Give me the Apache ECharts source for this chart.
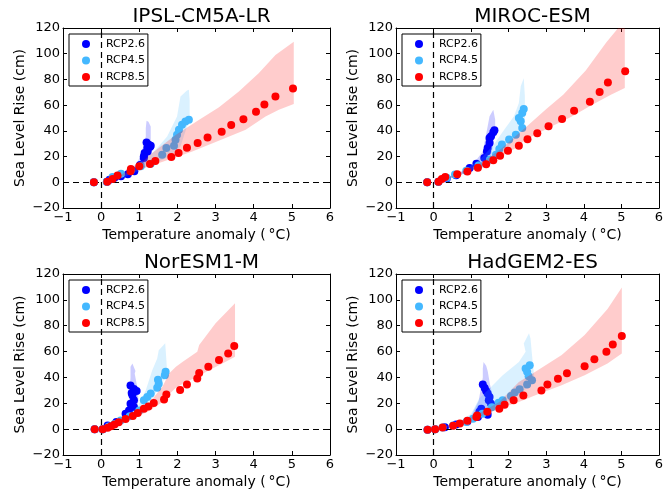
<!DOCTYPE html>
<html>
<head>
<meta charset="utf-8">
<script src="https://cdn.jsdelivr.net/npm/echarts@6/dist/echarts.min.js"></script>
<style>html,body{margin:0;padding:0;background:#fff}#c{width:669px;height:493px}</style>
</head>
<body>
<div id="c"></div>
<script>
// ---------- data ----------
const models = ['IPSL-CM5A-LR', 'MIROC-ESM', 'NorESM1-M', 'HadGEM2-ES'];
const scenarios = ['RCP2.6', 'RCP4.5', 'RCP8.5'];
const xTicks = [-1, 0, 1, 2, 3, 4, 5, 6];
const yTicks = [-20, 0, 20, 40, 60, 80, 100, 120];
const xLabel = 'Temperature anomaly (\u2009\u00B0C)';
const yLabel = 'Sea Level Rise (cm)';

// IPSL-CM5A-LR
const ipslRcp26 = [[-0.19,0],[0.15,0.5],[0.22,2],[0.35,3.5],[0.52,4.7],[0.70,6.2],[0.87,8.5],[1.02,13.5],[1.12,18.9],[1.14,22.8],[1.12,20.2],[1.21,26.6],[1.25,29.2],[1.19,31],[1.28,27.4],[1.22,24],[1.30,28.5]];
const ipslRcp45 = [[-0.19,0],[0.15,0.5],[0.30,4.1],[0.52,6.7],[0.78,9.3],[1.04,12.4],[1.30,14.5],[1.60,21.5],[1.71,26.6],[1.91,28.4],[1.95,33.1],[1.99,37],[2.04,40.9],[2.12,44.7],[2.21,47.3],[2.30,48.6]];
const ipslRcp85 = [[-0.19,0],[0.16,0.5],[0.30,2.6],[0.43,5.2],[0.77,8.5],[0.78,10.3],[1.0,12.4],[1.28,14.2],[1.42,16.5],[1.84,19.7],[2.03,22.8],[2.25,26.9],[2.53,30.5],[2.79,34.9],[3.16,39.3],[3.41,44.5],[3.73,49.1],[4.06,54.8],[4.28,60.5],[4.57,66.7],[5.03,72.9]];
const ipslBand26 = [[0.15,0.8],[0.6,6],[0.95,15],[1.08,25.3],[1.17,35.7],[1.17,42],[1.19,47.8],[1.24,47],[1.30,43.4],[1.30,33],[1.28,22],[1.15,14],[0.8,7],[0.15,0.2]];
const ipslBand45 = [[0.15,0.8],[0.65,7],[1.0,13],[1.43,25.3],[1.73,35.7],[1.99,51.2],[2.08,66.7],[2.25,71.4],[2.30,72],[2.32,64],[2.32,48.6],[2.25,43.4],[2.08,27.9],[1.78,20],[1.35,13.7],[0.65,4.7],[0.15,0.2]];
const ipslBand85 = [[0.15,0.8],[0.5,5.5],[1.0,14],[1.34,22.8],[1.96,37],[2.57,48.6],[3.09,58.4],[3.61,70.6],[4.13,84.8],[4.57,99],[5.05,109.4],[5.05,60.8],[4.66,56.4],[4.31,51.2],[3.79,40.9],[3.26,34.4],[2.39,24],[1.52,15],[1.0,10],[0.5,4],[0.15,0.2]];

// MIROC-ESM
const mirocRcp26 = [[-0.17,0],[0.13,0.5],[0.35,3],[0.6,5.5],[0.96,11.1],[1.14,14.5],[1.35,18.9],[1.42,24],[1.44,26.7],[1.49,30.6],[1.49,34.5],[1.53,35.8],[1.59,38.9],[1.62,40.4]];
const mirocRcp45 = [[-0.17,0],[0.13,0.5],[0.35,3.5],[0.57,6],[0.87,9],[1.2,13],[1.5,17.5],[1.66,21.5],[1.75,25.9],[1.82,29.3],[2.01,33.2],[2.19,37],[2.36,42.2],[2.32,47.4],[2.27,50],[2.36,53.9],[2.40,57]];
const mirocRcp85 = [[-0.17,0],[0.13,0.5],[0.22,2.6],[0.31,4.1],[0.63,6.2],[0.90,8.3],[1.18,11.4],[1.40,14],[1.59,17.1],[1.77,20.7],[1.98,24.6],[2.27,28.5],[2.50,33.5],[2.76,38.1],[3.06,43.5],[3.42,49.3],[3.74,55.7],[4.16,62.7],[4.42,70.2],[4.64,77.7],[5.10,86.3]];
const mirocBand26 = [[0.13,0.8],[0.6,6.5],[1.0,12],[1.31,24],[1.44,43.5],[1.49,51.3],[1.59,56.5],[1.64,48.7],[1.64,38.3],[1.53,20.2],[1.2,12],[0.7,5.5],[0.13,0.2]];
const mirocBand45 = [[0.13,0.8],[0.7,7],[1.22,17.6],[1.57,28],[1.88,40.9],[2.14,51.3],[2.27,61.7],[2.32,74.6],[2.40,81],[2.43,66.8],[2.43,48.7],[2.36,40.9],[1.92,25.4],[1.40,15],[0.8,6.5],[0.13,0.2]];
const mirocBand85 = [[0.13,0.8],[0.7,7.5],[1.3,16],[1.8,26],[2.5,44],[3.0,57],[3.45,68],[4.05,87],[4.6,109],[5.0,123],[5.09,125],[5.09,73.3],[4.72,68],[4.2,60],[3.67,51],[3.15,43.5],[2.45,33],[2.19,26.7],[1.66,17.6],[1.0,9],[0.5,4],[0.13,0.2]];

// NorESM1-M
const noresmRcp26 = [[-0.17,0],[0.04,0],[0.17,2.8],[0.4,5.5],[0.64,11.9],[0.73,14.5],[0.86,17.1],[0.77,19.7],[0.86,22.3],[0.82,26.2],[0.93,29.5],[0.86,31.1],[0.77,33.7],[0.80,28]];
const noresmRcp45 = [[-0.17,0],[0.04,0],[0.2,2],[0.35,4],[0.51,6.7],[0.75,10],[1.0,14.5],[1.12,22.3],[1.21,24.9],[1.30,27.5],[1.47,32.1],[1.51,35.2],[1.49,38.3],[1.67,41.7],[1.69,44.3]];
const noresmRcp85 = [[-0.17,0],[0.04,0],[0.17,1],[0.26,2.3],[0.35,3.6],[0.46,5.4],[0.64,7.8],[0.83,10.1],[0.96,12.4],[1.12,15.8],[1.24,17.6],[1.38,20.2],[1.65,23],[1.71,26.7],[2.07,30.3],[2.25,34.5],[2.52,39.1],[2.57,43.5],[2.81,48.2],[3.09,53.4],[3.33,58.6],[3.49,64.3]];
const noresmBand26 = [[0.04,0.3],[0.4,6.5],[0.6,11],[0.72,20],[0.77,40],[0.77,48.2],[0.82,50.8],[0.90,45],[0.88,43],[0.95,32],[0.98,22],[0.9,13],[0.5,5],[0.04,-0.3]];
const noresmBand45 = [[0.04,0.3],[0.5,7],[0.95,17],[1.17,30],[1.34,45.6],[1.47,54.7],[1.51,61],[1.68,66.5],[1.71,53.4],[1.73,44],[1.64,37.8],[1.3,22],[0.9,12],[0.4,4],[0.04,-0.3]];
const noresmBand85 = [[0.04,0.3],[0.6,8.5],[1.2,18],[1.61,33],[1.78,43],[1.96,48.2],[2.13,52],[2.52,59.8],[2.57,65],[3.0,81.9],[3.51,97.4],[3.51,56],[3.18,50.8],[2.83,45.6],[2.48,40],[2.13,35],[1.96,32],[1.78,27],[1.61,21],[1.2,13],[0.6,6],[0.04,-0.3]];

// HadGEM2-ES
const hadgemRcp26 = [[-0.16,-0.5],[0.04,0],[0.3,1.5],[0.6,3.5],[0.9,6],[1.18,9.3],[1.22,13.5],[1.44,11.1],[1.27,15.8],[1.53,19.7],[1.47,22.3],[1.49,24.9],[1.44,27.5],[1.40,29.5],[1.36,31.9],[1.31,34.5]];
const hadgemRcp45 = [[-0.16,-0.5],[0.04,0],[0.24,1.3],[0.52,2.8],[0.87,5.5],[1.05,8],[1.3,12],[1.55,17],[1.73,20.5],[1.84,22.3],[2.06,25.6],[2.16,28.3],[2.29,30.8],[2.49,34.5],[2.62,37.8],[2.53,40.9],[2.49,44.3],[2.45,46.9],[2.56,49.5]];
const hadgemRcp85 = [[-0.16,-0.5],[0.04,0],[0.24,1.3],[0.52,2.6],[0.70,4.4],[0.90,6.5],[1.14,9.3],[1.16,10.6],[1.43,13.5],[1.75,15.8],[1.89,18.9],[2.13,22.3],[2.39,26],[2.87,29.8],[3.03,34.5],[3.31,38.9],[3.55,43.3],[4.02,48.7],[4.28,54.1],[4.60,59.8],[4.77,65.5],[5.01,72]];
const hadgemBand26 = [[0.04,0.3],[0.6,4],[1.0,10],[1.2,22],[1.31,40],[1.31,47],[1.33,52],[1.40,49],[1.44,45],[1.5,35],[1.6,22],[1.55,12],[1.0,6],[0.04,-0.3]];
const hadgemBand45 = [[0.04,0.3],[0.6,4],[1.0,12],[1.22,23.8],[1.49,31.4],[1.84,41.7],[2.27,52],[2.45,59.8],[2.40,66.3],[2.54,74.1],[2.58,70.2],[2.62,57.3],[2.68,40],[2.5,32],[2.0,22],[1.5,15],[0.9,6],[0.04,-0.3]];
const hadgemBand85 = [[0.04,0.3],[0.6,4.5],[1.2,12],[1.75,21],[2.27,36.5],[2.71,44.3],[3.41,57.3],[4.02,72.8],[4.63,93],[5.01,109.6],[5.01,58.5],[4.63,50.8],[4.02,41.7],[3.41,34],[2.71,26.2],[2.27,21],[1.66,15],[1.1,8],[0.5,2.5],[0.04,-0.3]];

// ---------- styling / layout ----------
const pointColors = ['#0000ff', '#44b8ff', '#ff0000'];
const bandColors = ['rgba(0,0,255,0.2)', 'rgba(68,184,255,0.2)', 'rgba(255,0,0,0.2)'];
const FONT = 'DejaVu Sans';
const grids = [
  {left: 63, top: 28, width: 267, height: 180},
  {left: 396, top: 28, width: 263, height: 180},
  {left: 63, top: 274, width: 267, height: 181},
  {left: 396, top: 274, width: 263, height: 181}
];
const panelPoints = [
  [ipslRcp26, ipslRcp45, ipslRcp85],
  [mirocRcp26, mirocRcp45, mirocRcp85],
  [noresmRcp26, noresmRcp45, noresmRcp85],
  [hadgemRcp26, hadgemRcp45, hadgemRcp85]
];
const panelBands = [
  [ipslBand26, ipslBand45, ipslBand85],
  [mirocBand26, mirocBand45, mirocBand85],
  [noresmBand26, noresmBand45, noresmBand85],
  [hadgemBand26, hadgemBand45, hadgemBand85]
];

const fmt = v => (v < 0 ? '\u2212' + (-v) : String(v));
const tickStyle = {inside: true, length: 4, lineStyle: {color: '#000', width: 1}};
const axisLine = {show: true, onZero: false, lineStyle: {color: '#000', width: 1}};

const xAxes = [], yAxes = [], series = [], titles = [], legends = [];
grids.forEach((g, i) => {
  const bottomRow = i >= 2;
  xAxes.push({gridIndex: i, type: 'value', min: xTicks[0], max: xTicks[xTicks.length - 1], interval: 1, position: 'bottom',
    axisLine, axisTick: tickStyle, splitLine: {show: false},
    axisLabel: {formatter: fmt, color: '#000', fontSize: 13, fontFamily: FONT, margin: 3},
    name: xLabel, nameLocation: 'middle', nameGap: 20,
    nameTextStyle: {fontSize: 14, fontFamily: FONT, color: '#000', verticalAlign: 'top'}});
  xAxes.push({gridIndex: i, type: 'value', min: xTicks[0], max: xTicks[xTicks.length - 1], interval: 1, position: 'top',
    axisLine, axisTick: tickStyle, splitLine: {show: false}, axisLabel: {show: false}});
  yAxes.push({gridIndex: i, type: 'value', min: yTicks[0], max: yTicks[yTicks.length - 1], interval: 20, position: 'left',
    axisLine, axisTick: tickStyle, splitLine: {show: false},
    axisLabel: {formatter: fmt, color: '#000', fontSize: 13, fontFamily: FONT, margin: 3},
    name: yLabel, nameLocation: 'middle', nameGap: 36,
    nameTextStyle: {fontSize: 14, fontFamily: FONT, color: '#000'}});
  yAxes.push({gridIndex: i, type: 'value', min: yTicks[0], max: yTicks[yTicks.length - 1], interval: 20, position: 'right',
    axisLine, axisTick: tickStyle, splitLine: {show: false}, axisLabel: {show: false}});

  titles.push({text: models[i], left: g.left + g.width / 2, top: bottomRow ? 248 : 2, textAlign: 'center',
    textStyle: {fontSize: 20, fontWeight: 'normal', fontFamily: FONT, color: '#000'}});

  legends.push({orient: 'vertical', left: g.left + 6, top: g.top + 6, padding: [4, 3, 3, 13],
    itemWidth: 8, itemHeight: 8, itemGap: 4.5, icon: 'circle',
    borderColor: '#000', borderWidth: 1, backgroundColor: '#fff', borderRadius: 0,
    textStyle: {fontSize: 11, fontFamily: FONT, color: '#000', lineHeight: 12, padding: [0, 0, 0, 11]},
    data: scenarios, selectedMode: false});

  for (let s = 0; s < 3; s++) {
    const poly = panelBands[i][s];
    series.push({type: 'custom', name: 'band' + i + s, xAxisIndex: 2 * i, yAxisIndex: 2 * i,
      z: 2 + 2 * s, silent: true, clip: true, data: [[poly[0][0], poly[0][1]]],
      renderItem: (params, api) => {
        const cs = params.coordSys;
        return {type: 'polygon', shape: {points: poly.map(p => api.coord(p))},
          style: {fill: bandColors[s]},
          clipPath: {type: 'rect', shape: {x: cs.x, y: cs.y, width: cs.width, height: cs.height}}};
      }});
    const sc = {type: 'scatter', name: scenarios[s], xAxisIndex: 2 * i, yAxisIndex: 2 * i,
      z: 3 + 2 * s, symbol: 'circle', symbolSize: 8, data: panelPoints[i][s],
      itemStyle: {color: pointColors[s], opacity: 1}, silent: true};
    if (s === 0) {
      sc.markLine = {silent: true, symbol: 'none', label: {show: false},
        lineStyle: {color: '#000', type: [6, 4], width: 1.2},
        data: [{xAxis: 0}, {yAxis: 0}]};
    }
    series.push(sc);
  }
});

const chart = echarts.init(document.getElementById('c'), null, {renderer: 'canvas'});
chart.setOption({
  animation: false,
  backgroundColor: '#fff',
  textStyle: {fontFamily: FONT},
  title: titles,
  legend: legends,
  grid: grids.map(g => Object.assign({containLabel: false}, g)),
  xAxis: xAxes,
  yAxis: yAxes,
  series: series
});
</script>
</body>
</html>
